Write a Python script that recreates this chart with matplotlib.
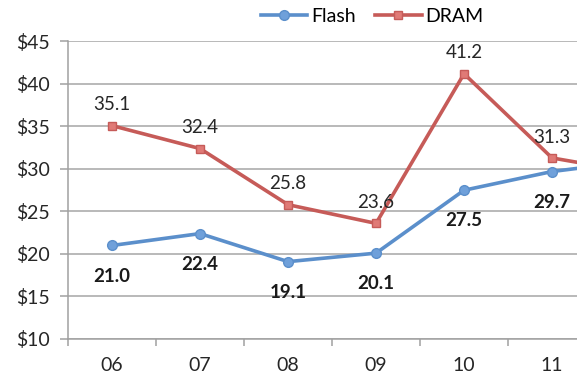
import numpy as np
import matplotlib.pyplot as plt

# price per GB by year (12 is just off the right edge of the picture)
years = ['06', '07', '08', '09', '10', '11', '12']
flash = [21.0, 22.4, 19.1, 20.1, 27.5, 29.7, 31.0]
dram = [35.1, 32.4, 25.8, 23.6, 41.2, 31.3, 29.5]
yticks = [10, 15, 20, 25, 30, 35, 40, 45]

plt.rcParams['font.family'] = ['Lato', 'DejaVu Sans']

fig = plt.figure(figsize=(5.77, 3.83), dpi=100)
ax = fig.add_axes([0.1179, 0.1149, 1.0676, 0.7768])  # runs past the right edge on purpose

x = np.arange(len(years))
blue = '#5B8FCB'
red = '#C65B58'

ax.plot(x, flash, color=blue, lw=2.6, marker='o', ms=7, mfc='#6FA0DA', mec=blue, label='Flash', zorder=3)
ax.plot(x, dram, color=red, lw=2.6, marker='s', ms=6, mfc='#E07A76', mec=red, label='DRAM', zorder=3)

for i in range(len(years)):
    ax.annotate('%.1f' % dram[i], (x[i], dram[i]), xytext=(0, 15), textcoords='offset points',
                ha='center', va='center', fontsize=13.5, color='#262626', annotation_clip=True)
    ax.annotate('%.1f' % flash[i], (x[i], flash[i]), xytext=(0, -22), textcoords='offset points',
                ha='center', va='center', fontsize=13.5, fontweight='bold', color='#1a1a1a',
                annotation_clip=True)

ax.set_xlim(-0.5, len(years) - 0.5)
ax.set_ylim(10, 45)
ax.set_yticks(yticks)
ax.set_yticklabels(['$%d' % v for v in yticks])
ax.set_xticks(x)
ax.set_xticklabels(years)
ax.set_xticks(np.arange(len(years) + 1) - 0.5, minor=True)

ax.grid(axis='y', color='#A6A6A6', lw=1.1)
ax.set_axisbelow(True)
for s in ['top', 'right']:
    ax.spines[s].set_visible(False)
for s in ['left', 'bottom']:
    ax.spines[s].set_color('#A0A0A0')
    ax.spines[s].set_linewidth(1.1)

ax.tick_params(axis='x', which='major', length=0, pad=13, labelsize=14, labelcolor='#262626')
ax.tick_params(axis='x', which='minor', length=5, color='#A0A0A0', width=1.1)
ax.tick_params(axis='y', length=6, color='#A0A0A0', width=1.1, pad=7, labelsize=14, labelcolor='#262626')

fig.legend(loc='upper center', bbox_to_anchor=(0.645, 1.025), ncol=2, frameon=False,
           fontsize=14, handlelength=2.4, columnspacing=1.0, handletextpad=0.2)

fig.savefig('out.png', dpi=100)
